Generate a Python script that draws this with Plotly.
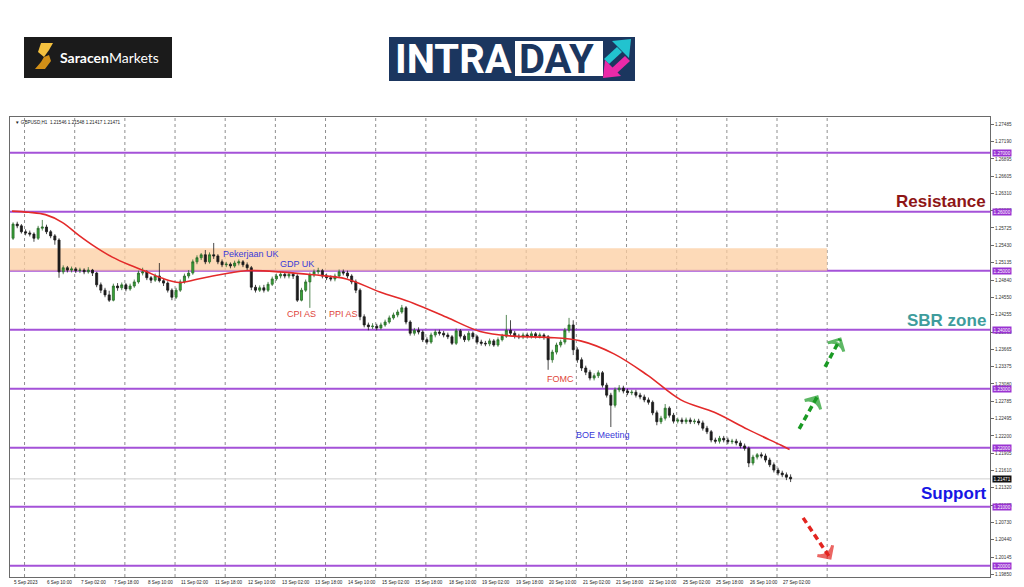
import plotly.graph_objects as go

# ---------------- data (GBPUSD, 2-hour candles) ----------------
open_first = 1.2555
closes = [
    1.2579, 1.2576, 1.2566, 1.2564, 1.2562, 1.2555, 1.2572, 1.2574, 1.2566, 1.2559, 1.2552, 1.2498,
    1.2505, 1.2501, 1.2503, 1.2500, 1.2501, 1.2498, 1.2501, 1.2496, 1.2476, 1.2467, 1.2459, 1.2450,
    1.2474, 1.2471, 1.2476, 1.2469, 1.2474, 1.2481, 1.2496, 1.2498, 1.2488, 1.2484, 1.2491, 1.2483,
    1.2479, 1.2467, 1.2455, 1.2467, 1.2481, 1.2491, 1.2496, 1.2515, 1.2522, 1.2527, 1.2515, 1.2527,
    1.2525, 1.2515, 1.2510, 1.2511, 1.2508, 1.2513, 1.2515, 1.2510, 1.2505, 1.2472, 1.2467, 1.2471,
    1.2467, 1.2477, 1.2486, 1.2491, 1.2494, 1.2491, 1.2494, 1.2491, 1.2450, 1.2467, 1.2481, 1.2493,
    1.2498, 1.2500, 1.2491, 1.2488, 1.2486, 1.2491, 1.2498, 1.2496, 1.2491, 1.2481, 1.2467, 1.2422,
    1.2408, 1.2405, 1.2406, 1.2403, 1.2408, 1.2413, 1.2420, 1.2425, 1.2430, 1.2437, 1.2413, 1.2394,
    1.2399, 1.2396, 1.2383, 1.2379, 1.2391, 1.2396, 1.2394, 1.2391, 1.2388, 1.2377, 1.2398, 1.2389,
    1.2383, 1.2394, 1.2388, 1.2379, 1.2377, 1.2376, 1.2381, 1.2374, 1.2383, 1.2389, 1.2399, 1.2394,
    1.2389, 1.2388, 1.2391, 1.2389, 1.2393, 1.2389, 1.2391, 1.2388, 1.2349, 1.2362, 1.2374, 1.2379,
    1.2399, 1.2408, 1.2366, 1.2349, 1.2335, 1.2328, 1.2318, 1.2322, 1.2327, 1.2306, 1.2289, 1.2272,
    1.2298, 1.2301, 1.2296, 1.2293, 1.2294, 1.2289, 1.2286, 1.2281, 1.2277, 1.2259, 1.2244, 1.2250,
    1.2267, 1.2255, 1.2245, 1.2247, 1.2244, 1.2247, 1.2244, 1.2245, 1.2242, 1.2233, 1.2227, 1.2213,
    1.2211, 1.2216, 1.2213, 1.2210, 1.2211, 1.2208, 1.2203, 1.2199, 1.2174, 1.2184, 1.2188, 1.2186,
    1.2179, 1.2171, 1.2162, 1.2157, 1.2154, 1.2150, 1.21471,
]
highs = [
    1.2582, 1.2583, 1.2579, 1.2570, 1.2568, 1.2565, 1.2576, 1.2586, 1.2578, 1.2569, 1.2562, 1.2555,
    1.2509, 1.2508, 1.2507, 1.2506, 1.2505, 1.2504, 1.2506, 1.2503, 1.2498, 1.2480, 1.2471, 1.2466,
    1.2478, 1.2479, 1.2480, 1.2479, 1.2478, 1.2485, 1.2500, 1.2505, 1.2501, 1.2491, 1.2495, 1.2513,
    1.2487, 1.2482, 1.2470, 1.2471, 1.2485, 1.2495, 1.2501, 1.2519, 1.2526, 1.2530, 1.2535, 1.2531,
    1.2547, 1.2528, 1.2519, 1.2515, 1.2514, 1.2517, 1.2519, 1.2518, 1.2514, 1.2508, 1.2476, 1.2475,
    1.2476, 1.2481, 1.2490, 1.2495, 1.2498, 1.2497, 1.2498, 1.2497, 1.2494, 1.2471, 1.2485, 1.2497,
    1.2502, 1.2505, 1.2503, 1.2495, 1.2492, 1.2495, 1.2502, 1.2502, 1.2500, 1.2494, 1.2485, 1.2470,
    1.2426, 1.2412, 1.2411, 1.2410, 1.2412, 1.2417, 1.2424, 1.2429, 1.2434, 1.2442, 1.2440, 1.2416,
    1.2403, 1.2404, 1.2399, 1.2387, 1.2395, 1.2400, 1.2400, 1.2398, 1.2395, 1.2391, 1.2402, 1.2401,
    1.2392, 1.2398, 1.2397, 1.2391, 1.2383, 1.2381, 1.2385, 1.2384, 1.2387, 1.2393, 1.2425, 1.2416,
    1.2398, 1.2393, 1.2395, 1.2395, 1.2397, 1.2396, 1.2395, 1.2394, 1.2391, 1.2366, 1.2378, 1.2383,
    1.2403, 1.2420, 1.2416, 1.2370, 1.2353, 1.2339, 1.2332, 1.2326, 1.2331, 1.2330, 1.2310, 1.2293,
    1.2302, 1.2306, 1.2305, 1.2300, 1.2298, 1.2298, 1.2293, 1.2290, 1.2285, 1.2280, 1.2263, 1.2254,
    1.2274, 1.2270, 1.2259, 1.2251, 1.2251, 1.2251, 1.2251, 1.2249, 1.2249, 1.2246, 1.2237, 1.2230,
    1.2217, 1.2220, 1.2220, 1.2217, 1.2215, 1.2215, 1.2212, 1.2207, 1.2202, 1.2188, 1.2191, 1.2192,
    1.2190, 1.2183, 1.2175, 1.2166, 1.2161, 1.2158, 1.21548,
]
lows = [
    1.2552, 1.2572, 1.2563, 1.2560, 1.2558, 1.2549, 1.2552, 1.2568, 1.2562, 1.2555, 1.2544, 1.2488,
    1.2494, 1.2497, 1.2497, 1.2496, 1.2496, 1.2494, 1.2495, 1.2491, 1.2472, 1.2462, 1.2455, 1.2447,
    1.2448, 1.2466, 1.2467, 1.2465, 1.2466, 1.2471, 1.2478, 1.2492, 1.2484, 1.2479, 1.2481, 1.2480,
    1.2474, 1.2463, 1.2450, 1.2452, 1.2464, 1.2478, 1.2487, 1.2493, 1.2511, 1.2518, 1.2511, 1.2512,
    1.2520, 1.2511, 1.2506, 1.2506, 1.2504, 1.2505, 1.2509, 1.2506, 1.2500, 1.2467, 1.2463, 1.2464,
    1.2463, 1.2464, 1.2474, 1.2483, 1.2487, 1.2487, 1.2487, 1.2486, 1.2447, 1.2448, 1.2464, 1.2437,
    1.2489, 1.2494, 1.2487, 1.2484, 1.2482, 1.2482, 1.2488, 1.2492, 1.2487, 1.2477, 1.2462, 1.2416,
    1.2404, 1.2399, 1.2401, 1.2399, 1.2400, 1.2405, 1.2410, 1.2417, 1.2421, 1.2427, 1.2409, 1.2390,
    1.2390, 1.2392, 1.2379, 1.2375, 1.2376, 1.2387, 1.2390, 1.2387, 1.2384, 1.2374, 1.2374, 1.2385,
    1.2379, 1.2380, 1.2384, 1.2375, 1.2373, 1.2372, 1.2372, 1.2371, 1.2371, 1.2380, 1.2386, 1.2390,
    1.2385, 1.2384, 1.2384, 1.2385, 1.2385, 1.2385, 1.2385, 1.2383, 1.2332, 1.2344, 1.2358, 1.2370,
    1.2375, 1.2395, 1.2357, 1.2344, 1.2330, 1.2323, 1.2314, 1.2314, 1.2318, 1.2302, 1.2285, 1.2235,
    1.2268, 1.2294, 1.2292, 1.2289, 1.2289, 1.2285, 1.2282, 1.2277, 1.2273, 1.2255, 1.2238, 1.2240,
    1.2246, 1.2251, 1.2241, 1.2241, 1.2240, 1.2240, 1.2240, 1.2240, 1.2238, 1.2229, 1.2223, 1.2209,
    1.2207, 1.2207, 1.2209, 1.2206, 1.2206, 1.2204, 1.2199, 1.2195, 1.2167, 1.2170, 1.2180, 1.2182,
    1.2175, 1.2167, 1.2158, 1.2153, 1.2150, 1.2145, 1.21417,
]
hours_per_candle = 2

# moving average (red line), sampled at hourly-bar index
ma_bars = [0, 8, 16, 24, 32, 40, 48, 56, 64, 72, 80, 88, 96, 104, 112, 128, 144, 160, 176, 192,
           208, 224, 240, 256, 272, 288, 304, 320, 336, 352, 368, 372]
ma_vals = [1.2601, 1.2599, 1.2595, 1.2582, 1.2560, 1.2540, 1.2523, 1.2510, 1.2499, 1.2487, 1.2480,
           1.2485, 1.2491, 1.2496, 1.2500, 1.2498, 1.2493, 1.2486, 1.2464, 1.2445, 1.2421, 1.2397,
           1.2389, 1.2387, 1.2381, 1.2359, 1.2323, 1.2281, 1.2260, 1.2231, 1.2204, 1.2197]

level_prices = [1.27, 1.26, 1.25, 1.24, 1.23, 1.22, 1.21, 1.20]
level_labels = ["1.27000", "1.26000", "1.25000", "1.24000", "1.23000", "1.22000", "1.21000", "1.20000"]
zone_low, zone_high, zone_end_bar = 1.2500, 1.2538, 390
last_price = 1.21471
header_text = "▼ GBPUSD,H1  1.21546 1.21548 1.21417 1.21471"

ytick_vals = [1.27485, 1.27190, 1.26895, 1.26605, 1.26310, 1.26020, 1.25725, 1.25430, 1.25135,
              1.24840, 1.24550, 1.24255, 1.23960, 1.23665, 1.23375, 1.23080, 1.22785, 1.22495,
              1.22200, 1.21905, 1.21610, 1.21320, 1.21025, 1.20730, 1.20440, 1.20145, 1.19850]
time_label_bars = list(range(0, 369, 16))
time_labels = ["5 Sep 2023", "6 Sep 10:00", "7 Sep 02:00", "7 Sep 18:00", "8 Sep 10:00",
               "11 Sep 02:00", "11 Sep 18:00", "12 Sep 10:00", "13 Sep 02:00", "13 Sep 18:00",
               "14 Sep 10:00", "15 Sep 02:00", "15 Sep 18:00", "18 Sep 10:00", "19 Sep 02:00",
               "19 Sep 18:00", "20 Sep 10:00", "21 Sep 02:00", "21 Sep 18:00", "22 Sep 10:00",
               "25 Sep 02:00", "25 Sep 18:00", "26 Sep 10:00", "27 Sep 02:00"]
day_grid_bars = list(range(6, 391, 24))

event_text = ["Pekerjaan UK", "GDP UK", "CPI AS", "PPI AS", "FOMC", "BOE Meeting"]
event_bar = [114.4, 136.4, 138.3, 158.6, 262.4, 282.8]
event_price = [1.2528, 1.2511, 1.2427, 1.2427, 1.2316, 1.2221]
event_color = ["#3a3ad8", "#3a3ad8", "#e0453a", "#e0453a", "#e0453a", "#3a3ad8"]

zone_text = ["Resistance", "SBR zone", "Support"]
zone_price = [1.2618, 1.2416, 1.2122]
zone_color = ["#8e1616", "#3e9c9c", "#1616e4"]

arrow_bars = [(376.6, 385.2), (389.0, 396.2), (378.5, 391.4)]
arrow_prices = [(1.2232, 1.2286), (1.2337, 1.2384), (1.2081, 1.2013)]
arrow_colors = ["#1a9a24", "#1a9a24", "#e3241f"]

# ---------------- figure ----------------
W, H = 1024, 587
PL, PR, PT, PB = 10, 990, 117, 577


def px(x):
    return (x - PL) / (PR - PL)


def py(y):
    return (PB - y) / (PB - PT)


opens = [open_first] + closes[:-1]
candle_x = [hours_per_candle * k + 0.5 for k in range(len(closes))]

fig = go.Figure()
fig.add_trace(go.Candlestick(
    x=candle_x, open=opens, high=highs, low=lows, close=closes,
    increasing=dict(line=dict(color="#2b6a2b", width=0.8), fillcolor="#36a636"),
    decreasing=dict(line=dict(color="#1c1c1c", width=0.8), fillcolor="#1c1c1c"),
    whiskerwidth=0, showlegend=False, hoverinfo="skip"))

fig.add_trace(go.Scatter(x=ma_bars, y=ma_vals, mode="lines",
                         line=dict(color="#e32a2a", width=1.6, shape="spline", smoothing=1.0),
                         showlegend=False, hoverinfo="skip"))

for (bx, pp, col) in zip(arrow_bars, arrow_prices, arrow_colors):
    fig.add_trace(go.Scatter(
        x=list(bx), y=list(pp), mode="lines+markers",
        line=dict(color=col, width=3.5, dash="6px,4px"),
        marker=dict(symbol="arrow-wide-open", size=[0, 13], angleref="previous",
                    color=col, line=dict(color=col, width=3)),
        showlegend=False, hoverinfo="skip"))

shapes = []
# zone band
shapes.append(dict(type="rect", xref="x", yref="y", x0=-1, x1=zone_end_bar, y0=zone_low, y1=zone_high,
                   fillcolor="rgba(252,205,160,0.75)", line=dict(width=0), layer="below"))
# day grid
for b in day_grid_bars:
    shapes.append(dict(type="line", xref="x", yref="paper", x0=b, x1=b, y0=0, y1=1,
                       line=dict(color="#8f8f8f", width=1, dash="dot"), layer="below"))
# last price line
shapes.append(dict(type="line", xref="paper", yref="y", x0=0, x1=1, y0=last_price, y1=last_price,
                   line=dict(color="#cfcfcf", width=1), layer="below"))
# levels
for lp in level_prices:
    shapes.append(dict(type="line", xref="paper", yref="y", x0=0, x1=1, y0=lp, y1=lp,
                       line=dict(color="#a452d8", width=2), layer="below"))


def poly(points):
    s = "M " + " L ".join(f"{px(a):.5f},{py(b):.5f}" for a, b in points) + " Z"
    return s


# Saracen logo
shapes.append(dict(type="rect", xref="paper", yref="paper", x0=px(24), x1=px(172), y0=py(78), y1=py(37),
                   fillcolor="#1b1b1b", line=dict(width=0)))
shapes.append(dict(type="path", xref="paper", yref="paper",
                   path=poly([(41, 43), (53, 43), (49, 50), (44, 57), (38, 52)]),
                   fillcolor="#f4c13f", line=dict(width=0)))
shapes.append(dict(type="path", xref="paper", yref="paper",
                   path=poly([(44, 57), (49, 55), (51, 61), (45, 69), (35, 69), (41, 62)]),
                   fillcolor="#d18f17", line=dict(width=0)))
# INTRADAY logo
shapes.append(dict(type="rect", xref="paper", yref="paper", x0=px(389), x1=px(635), y0=py(81), y1=py(37),
                   fillcolor="#1b365f", line=dict(width=0)))
shapes.append(dict(type="rect", xref="paper", yref="paper", x0=px(515), x1=px(603), y0=py(76), y1=py(41),
                   fillcolor="#ffffff", line=dict(width=0)))
shapes.append(dict(type="path", xref="paper", yref="paper",
                   path=poly([(612, 41), (631, 39), (629, 58)]), fillcolor="#22c3cf", line=dict(width=0)))
shapes.append(dict(type="path", xref="paper", yref="paper",
                   path=poly([(604, 59), (617, 47), (622, 52), (609, 64)]), fillcolor="#22c3cf",
                   line=dict(width=0)))
shapes.append(dict(type="path", xref="paper", yref="paper",
                   path=poly([(603, 78), (605, 60), (621, 76)]), fillcolor="#ea2aa8", line=dict(width=0)))
shapes.append(dict(type="path", xref="paper", yref="paper",
                   path=poly([(612, 68), (625, 56), (630, 61), (617, 73)]), fillcolor="#ea2aa8",
                   line=dict(width=0)))

ann = []
small = dict(family="Liberation Sans", size=4.6, color="#222222")
for b, t in zip(time_label_bars, time_labels):
    ann.append(dict(x=b, xref="x", y=0, yref="paper", yanchor="top", xanchor="left", yshift=-1,
                    text=t, showarrow=False, font=small))
for lp, lt in zip(level_prices, level_labels):
    ann.append(dict(x=1, xref="paper", y=lp, yref="y", xanchor="left", yanchor="middle", xshift=1.5,
                    text=lt, showarrow=False, bgcolor="#9a33d2", borderpad=0.6,
                    font=dict(family="Liberation Sans", size=4.6, color="#ffffff")))
ann.append(dict(x=1, xref="paper", y=last_price, yref="y", xanchor="left", yanchor="middle", xshift=1.5,
                text=f"{last_price:.5f}", showarrow=False, bgcolor="#111111", borderpad=0.6,
                font=dict(family="Liberation Sans", size=4.6, color="#ffffff")))
ann.append(dict(x=px(13), xref="paper", y=py(118), yref="paper", xanchor="left", yanchor="top",
                text=header_text, showarrow=False, font=small))
for t, b, p, c in zip(event_text, event_bar, event_price, event_color):
    ann.append(dict(x=b, xref="x", y=p, yref="y", xanchor="center", yanchor="middle", text=t,
                    showarrow=False, font=dict(family="Liberation Sans", size=9, color=c)))
for t, p, c in zip(zone_text, zone_price, zone_color):
    ann.append(dict(x=px(988), xref="paper", y=p, yref="y", xanchor="right", yanchor="middle",
                    text=f"<b>{t}</b>", showarrow=False,
                    font=dict(family="Liberation Sans", size=17, color=c)))
# logo texts
ann.append(dict(x=px(58), xref="paper", y=py(57), yref="paper", xanchor="left", yanchor="middle",
                text="<b>Saracen</b>Markets", showarrow=False,
                font=dict(family="Lato", size=14, color="#ffffff")))
ann.append(dict(x=px(393), xref="paper", y=py(59), yref="paper", xanchor="left", yanchor="middle",
                text="<b>INTRA</b>", showarrow=False,
                font=dict(family="Roboto", size=40, color="#ffffff")))
ann.append(dict(x=px(517), xref="paper", y=py(59), yref="paper", xanchor="left", yanchor="middle",
                text="<b>DAY</b>", showarrow=False,
                font=dict(family="Roboto", size=40, color="#1b365f")))

fig.update_layout(
    width=W, height=H,
    margin=dict(l=PL, r=W - PR, t=PT, b=H - PB, pad=0),
    paper_bgcolor="#ffffff", plot_bgcolor="#ffffff",
    font=dict(family="Liberation Sans"),
    shapes=shapes, annotations=ann, showlegend=False,
    xaxis=dict(range=[-0.957, 467.9], showgrid=False, zeroline=False, showticklabels=False,
               rangeslider=dict(visible=False), showline=True, mirror=True,
               linecolor="#6a6a6a", linewidth=1, ticks=""),
    yaxis=dict(range=[1.19808, 1.27605], side="right", showgrid=False, zeroline=False,
               tickvals=ytick_vals, ticktext=[f"{v:.5f}" for v in ytick_vals],
               ticks="outside", ticklen=3, tickcolor="#6a6a6a", tickwidth=1,
               tickfont=dict(family="Liberation Sans", size=4.6, color="#333333"),
               showline=True, mirror=True, linecolor="#6a6a6a", linewidth=1),
)

fig.write_html("out.html", config={"displayModeBar": False},
               post_script="document.body.style.margin='0';document.body.style.overflow='hidden';")
